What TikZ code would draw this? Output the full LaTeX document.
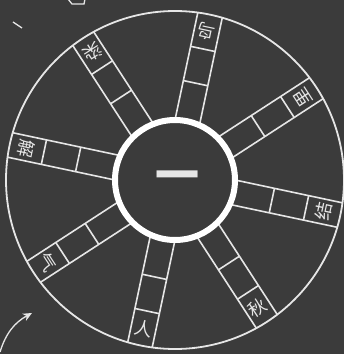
\documentclass[tikz,border=0pt]{standalone}
\usepackage{fontspec}
\usetikzlibrary{arrows.meta}
\newfontfamily\cjk{Noto Sans CJK SC}
\definecolor{board}{HTML}{3B3B3B}
\definecolor{chalk}{HTML}{E6E6E6}
\tikzset{
  kanji/.style={font=\cjk\fontsize{18}{18}\selectfont, text=chalk, inner sep=0pt},
  spoke/.style={draw=chalk, line width=1.6pt},
}

\begin{document}
\begin{tikzpicture}[x=1pt,y=1pt,>=stealth]
                \useasboundingbox (-175,-174) rectangle (169,180);
                \fill[board] (-175,-174) rectangle (169,180);

                % spokes with two empty boxes each
                \foreach \a in {78,33,-12,-57,-102,-147,168,123}{
                    \begin{scope}[rotate=\a]
                        \draw[spoke] (58,12.5) -- (168.5,12.5);
                        \draw[spoke] (58,-12.5) -- (168.5,-12.5);
                        \draw[spoke] (99,-12.5) -- (99,12.5);
                        \draw[spoke] (134,-12.5) -- (134,12.5);
                    \end{scope}
                }

                \draw[chalk, line width=1.8pt] (0,0) circle (169);
                \fill[board] (0,0) circle (57);
                \draw[white, line width=6pt] (0,0) circle (60);

                \node[kanji, font=\cjk\bfseries\fontsize{44}{44}\selectfont] (c) at (3,-1) {一};

                \node[kanji, rotate=168] (niao) at (78:152) {鸟};
                \node[kanji, rotate=123] (li) at (33:152) {里};
                \node[kanji, rotate=78] (jie) at (-12:152) {结};
                \node[kanji, rotate=33] (qiu) at (-57:152) {秋};
                \node[kanji, rotate=-12] (ren) at (-102:152) {人};
                \node[kanji, rotate=-57] (qi) at (-147:152) {气};
                \node[kanji, rotate=-102] (xie) at (168:152) {解};
                \node[kanji, rotate=-147] (ran) at (123:152) {染};

                % scraps of chalk at the edges
                \coordinate (a1) at (-175,-172);
                \coordinate (a2) at (-143,-133);
                \draw[-{Stealth[length=9pt,width=8pt]}, chalk, line width=1.3pt] (a1) to[bend left=22] (a2);
                \coordinate (t1) at (-162,158);
                \coordinate (t2) at (-153,152);
                \draw[chalk, line width=1.3pt] (t1) -- (t2);
                \coordinate (f1) at (-107,181);
                \coordinate (f2) at (-90,181);
                \draw[chalk, line width=1.3pt] (f1) -- (-103,176) -- (-91,176) -- (f2);
            \end{tikzpicture}
\end{document}
